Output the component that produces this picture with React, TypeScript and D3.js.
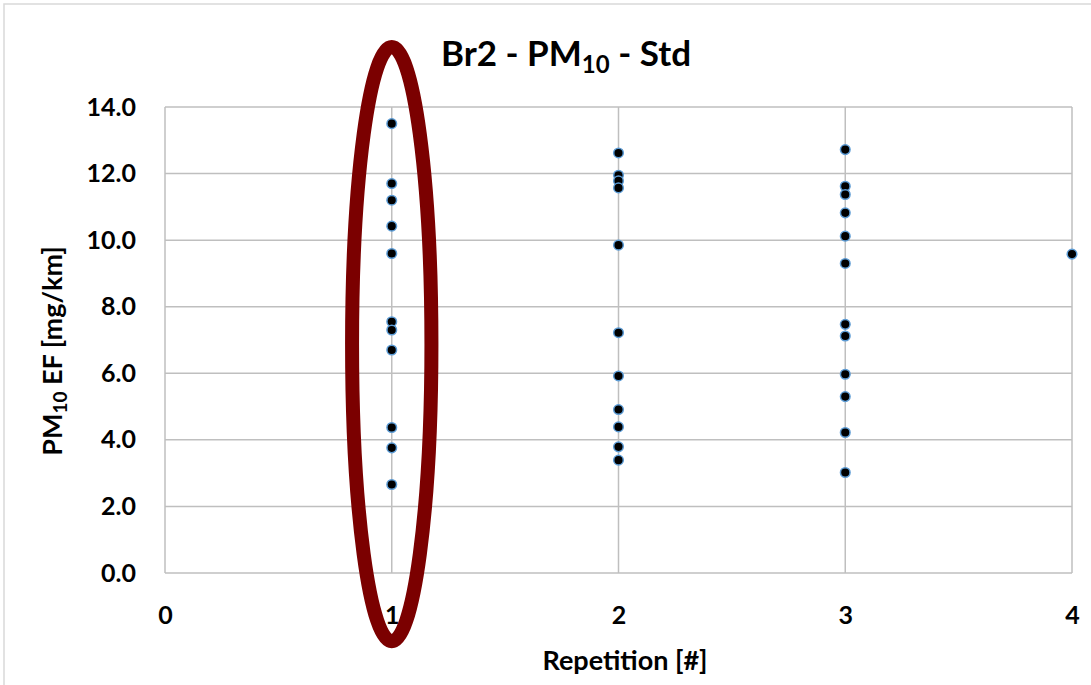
import React, { useEffect, useRef } from 'react';
import * as d3 from 'd3';

// PM10 EF values [mg/km] per repetition
const repetitions = [1, 2, 3, 4];
const rep1 = [13.5, 11.7, 11.2, 10.42, 9.6, 7.55, 7.3, 6.7, 4.37, 3.76, 2.66];
const rep2 = [12.62, 11.95, 11.78, 11.57, 9.85, 7.22, 5.92, 4.91, 4.39, 3.79, 3.39];
const rep3 = [12.72, 11.62, 11.37, 10.82, 10.12, 9.3, 7.47, 7.12, 5.97, 5.3, 4.22, 3.02];
const rep4 = [9.58];
const xTicks = [0, 1, 2, 3, 4];
const yTicks = [0, 2, 4, 6, 8, 10, 12, 14];
// highlighted repetition (ellipse), in data units
const highlight = { x: 1, halfWidth: 0.175, yMin: -2.05, yMax: 15.8 };

const FONT = 'Lato, "Open Sans", sans-serif';

const App = () => {
  const xAxisRef = useRef<SVGGElement>(null);
  const yAxisRef = useRef<SVGGElement>(null);

  const width = 1091;
  const height = 685;
  const margin = { top: 107, right: 19, bottom: 112, left: 165 };
  const innerW = width - margin.left - margin.right;
  const innerH = height - margin.top - margin.bottom;

  const x = d3.scaleLinear().domain([0, 4]).range([0, innerW]);
  const y = d3.scaleLinear().domain([0, 14]).range([innerH, 0]);

  const series = [rep1, rep2, rep3, rep4];
  const points = series.flatMap((vals, i) => vals.map(v => ({ rep: repetitions[i], v })));

  useEffect(() => {
    const gx = d3.select(xAxisRef.current);
    gx.selectAll('*').remove();
    gx.call(d3.axisBottom(x).tickValues(xTicks).tickFormat(d3.format('d')).tickSize(0).tickPadding(33));
    gx.select('.domain').remove();
    gx.selectAll('text')
      .attr('font-family', FONT)
      .attr('font-size', 25)
      .attr('font-weight', 'bold')
      .attr('fill', '#000');

    const gy = d3.select(yAxisRef.current);
    gy.selectAll('*').remove();
    gy.call(d3.axisLeft(y).tickValues(yTicks).tickFormat(d3.format('.1f')).tickSize(0).tickPadding(29));
    gy.select('.domain').remove();
    gy.selectAll('text')
      .attr('font-family', FONT)
      .attr('font-size', 25)
      .attr('font-weight', 'bold')
      .attr('fill', '#000');
  }, []);

  const ecx = x(highlight.x);
  const ecy = (y(highlight.yMin) + y(highlight.yMax)) / 2;
  const erx = x(highlight.halfWidth) - x(0);
  const ery = (y(highlight.yMin) - y(highlight.yMax)) / 2;

  return (
    <svg width={width} height={height} style={{ position: 'absolute', left: 0, top: 0, background: '#fff' }}>
      <rect x={4} y={4} width={width + 10} height={height + 10} fill="#fff" stroke="#d9d9d9" strokeWidth={1.5} />
      <g transform={`translate(${margin.left},${margin.top})`}>
        {yTicks.map(t => (
          <line key={'gy' + t} x1={0} x2={innerW} y1={y(t)} y2={y(t)} stroke="#bfbfbf" strokeWidth={1.5} />
        ))}
        {xTicks.map(t => (
          <line key={'gx' + t} x1={x(t)} x2={x(t)} y1={0} y2={innerH} stroke="#bfbfbf" strokeWidth={1.5} />
        ))}
        <g ref={xAxisRef} transform={`translate(0,${innerH})`} />
        <g ref={yAxisRef} />
        {points.map((p, i) => (
          <circle key={i} cx={x(p.rep)} cy={y(p.v)} r={4.8} fill="#000" stroke="#5b9bd5" strokeWidth={1.5} />
        ))}
        <ellipse cx={ecx} cy={ecy} rx={erx} ry={ery} fill="none" stroke="#7b0000" strokeWidth={14} />
      </g>
      <text x={566} y={66} textAnchor="middle" fontFamily={FONT} fontWeight="bold" fontSize={35} fill="#000">
        Br2 - PM<tspan fontSize={24} dy={7}>10</tspan><tspan dy={-7}> - Std</tspan>
      </text>
      <text transform="translate(62,351) rotate(-90)" textAnchor="middle" fontFamily={FONT} fontWeight="bold" fontSize={27} fill="#000">
        PM<tspan fontSize={19} dy={5}>10</tspan><tspan dy={-5}> EF [mg/km]</tspan>
      </text>
      <text x={625} y={670} textAnchor="middle" fontFamily={FONT} fontWeight="bold" fontSize={27} fill="#000">
        Repetition [#]
      </text>
    </svg>
  );
};

export default App;
